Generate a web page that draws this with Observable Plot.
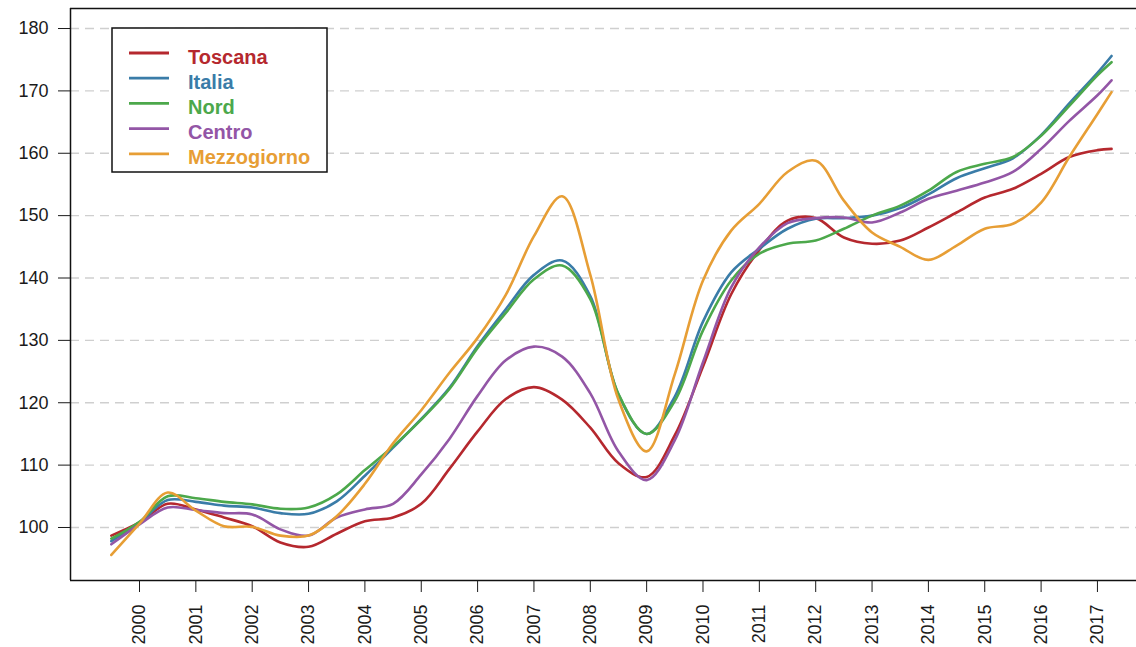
<!DOCTYPE html>
<html>
<head>
<meta charset="utf-8">
<script src="https://cdn.jsdelivr.net/npm/d3@7"></script>
<script src="https://cdn.jsdelivr.net/npm/@observablehq/plot@0.6"></script>
<style>
html, body { margin: 0; padding: 0; background: #fff; overflow: hidden; }
#wrap { position: relative; width: 1136px; height: 647px; }
</style>
</head>
<body>
<div id="wrap"></div>
<script>
// Time points (decimal years, half-yearly + last quarter)
const periods = [2000.0, 2000.5, 2001.0, 2001.5, 2002.0, 2002.5, 2003.0, 2003.5, 2004.0, 2004.5,
  2005.0, 2005.5, 2006.0, 2006.5, 2007.0, 2007.5, 2008.0, 2008.5, 2009.0, 2009.5,
  2010.0, 2010.5, 2011.0, 2011.5, 2012.0, 2012.5, 2013.0, 2013.5, 2014.0, 2014.5,
  2015.0, 2015.5, 2016.0, 2016.5, 2017.0, 2017.5, 2017.75];

const toscana = [98.7, 100.8, 103.8, 102.9, 101.6, 100.2, 97.6, 96.9, 99.0, 101.0,
  101.6, 103.8, 109.4, 115.4, 120.6, 122.5, 120.5, 116.0, 110.3, 108.1,
  114.8, 125.8, 137.4, 144.5, 149.2, 149.6, 146.5, 145.5, 146.0, 148.1,
  150.5, 152.9, 154.3, 156.7, 159.4, 160.5, 160.7];

const italia = [97.8, 100.8, 104.4, 104.1, 103.5, 103.2, 102.3, 102.2, 104.2, 108.3,
  112.8, 117.4, 122.4, 129.1, 135.0, 140.5, 142.8, 137.1, 121.3, 115.0,
  121.0, 133.0, 140.9, 144.7, 147.9, 149.5, 149.6, 150.0, 151.2, 153.4,
  156.0, 157.6, 159.2, 162.9, 168.0, 172.9, 175.6];

const nord = [98.2, 100.9, 105.0, 104.7, 104.1, 103.7, 103.0, 103.2, 105.3, 109.2,
  113.0, 117.3, 122.2, 128.8, 134.4, 139.8, 142.0, 136.6, 121.4, 115.0,
  120.3, 131.6, 139.6, 143.9, 145.5, 146.0, 147.9, 150.0, 151.6, 154.0,
  157.0, 158.3, 159.4, 162.8, 167.6, 172.5, 174.6];

const centro = [97.3, 100.5, 103.2, 102.8, 102.3, 102.1, 99.7, 98.7, 101.6, 102.9,
  103.8, 108.5, 114.2, 121.1, 126.8, 129.0, 127.4, 121.5, 112.2, 107.6,
  114.0, 126.5, 138.5, 144.9, 148.8, 149.6, 149.7, 148.9, 150.5, 152.7,
  154.0, 155.3, 157.0, 160.7, 165.2, 169.3, 171.7];

const mezzogiorno = [95.6, 100.6, 105.6, 102.7, 100.2, 100.1, 98.7, 98.7, 101.8, 107.0,
  113.5, 118.8, 124.8, 130.4, 137.3, 146.7, 153.1, 140.5, 120.5, 112.2,
  124.6, 139.6, 147.6, 151.9, 157.0, 158.8, 152.4, 147.3, 145.0, 142.9,
  145.2, 147.9, 148.7, 152.1, 159.4, 166.3, 169.8];

const seriesNames = ["Toscana", "Italia", "Nord", "Centro", "Mezzogiorno"];
const seriesColors = ["#B5282E", "#3A7CA8", "#4CA84B", "#9356A6", "#E79E35"];
const seriesValues = [toscana, italia, nord, centro, mezzogiorno];

const yearLabels = [2000, 2001, 2002, 2003, 2004, 2005, 2006, 2007, 2008,
  2009, 2010, 2011, 2012, 2013, 2014, 2015, 2016, 2017];
const yTicks = [100, 110, 120, 130, 140, 150, 160, 170, 180];

const table = seriesNames.flatMap((name, i) =>
  periods.map((t, j) => ({ series: name, t, v: seriesValues[i][j] })));

// year ticks are drawn at mid-year
const xTickPos = yearLabels.map(y => y + 0.5);

const xDomain = [1999.2755, 2018.193];
const yDomain = [91.5, 183.21];

const chart = Plot.plot({
  width: 1136,
  height: 647,
  marginLeft: 70,
  marginTop: 8,
  marginBottom: 67,
  marginRight: 0,
  style: { fontFamily: "'Liberation Sans', Arial, sans-serif", fontSize: "18px", color: "#1a1a1a", background: "#fff" },
  x: { domain: xDomain },
  y: { domain: yDomain },
  color: { domain: seriesNames, range: seriesColors },
  marks: [
    Plot.ruleY(yTicks, { stroke: "#cfcfcf", strokeWidth: 1.4, strokeDasharray: "9,6" }),
    Plot.line(table, { x: "t", y: "v", z: "series", stroke: "series", strokeWidth: 2.6, curve: "catmull-rom" }),
    Plot.ruleX([xDomain[0]], { stroke: "#111", strokeWidth: 1.5 }),
    Plot.ruleY([yDomain[0], yDomain[1]], { stroke: "#111", strokeWidth: 1.5 }),
    Plot.axisY({ ticks: yTicks, tickSize: 12, tickPadding: 10, fontSize: 18, label: null }),
    Plot.axisX({ ticks: xTickPos, tickFormat: d => String(Math.round(d - 0.5)), tickRotate: -90,
      tickSize: 12, tickPadding: 12, fontSize: 18, label: null })
  ]
});

document.getElementById("wrap").appendChild(chart);

// Legend box (top-left, inside plot)
const svg = d3.select(chart.tagName.toLowerCase() === "svg" ? chart : chart.querySelector("svg"));
const lg = svg.append("g").attr("text-anchor", "start");
lg.append("rect").attr("x", 112).attr("y", 28).attr("width", 215).attr("height", 144)
  .attr("fill", "#fff").attr("stroke", "#111").attr("stroke-width", 1.5);
seriesNames.forEach((name, i) => {
  const cy = 53 + i * 25.2;
  lg.append("line").attr("x1", 129).attr("x2", 169).attr("y1", cy).attr("y2", cy)
    .attr("stroke", seriesColors[i]).attr("stroke-width", 2.8);
  lg.append("text").attr("x", 188).attr("y", cy + 10.5).text(name)
    .attr("text-anchor", "start")
    .attr("fill", seriesColors[i]).attr("font-weight", "bold").attr("font-size", 20)
    .attr("font-family", "'Liberation Sans', Arial, sans-serif");
});
</script>
</body>
</html>
